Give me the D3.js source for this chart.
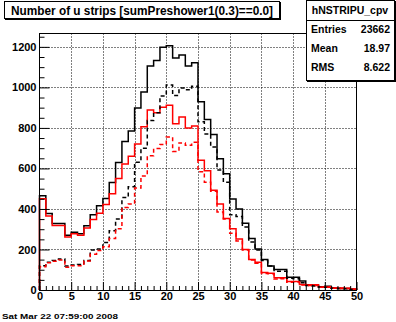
<!DOCTYPE html>
<html><head><meta charset="utf-8">
<script src="https://cdn.jsdelivr.net/npm/d3@7"></script>
<style>
html,body{margin:0;padding:0;background:#fff;}
svg{display:block;}
text{font-family:"Liberation Sans",Arial,sans-serif;font-weight:bold;}
</style></head>
<body><svg id="c" width="396" height="322"></svg>
<script>
// ---- data (bin contents, 50 bins of width 1 from 0 to 50) ----
const binEdges = [0, 50];
const blackSolid = [465,378,328,328,270,285,278,317,372,416,
  452,530,629,733,785,898,977,1105,1133,1198,
  1206,1145,1160,1105,1122,929,842,767,648,574,
  449,400,330,254,202,151,119,101,101,63,
  63,44,24,24,16,18,10,8,8,4];
const blackDashed = [120,137,145,153,119,124,126,145,197,202,
  235,293,350,456,510,631,700,836,875,958,
  1012,960,997,988,1006,830,770,706,592,532,
  371,363,311,237,197,145,118,92,92,58,
  55,36,22,20,15,14,9,7,6,3];
const redSolid = [450,365,318,318,262,278,270,306,348,379,
  422,475,550,622,660,721,806,888,875,902,
  912,821,854,800,810,641,589,492,425,353,
  302,252,200,150,137,86,83,60,60,42,
  42,27,26,26,15,16,10,10,9,5];
const redDashed = [115,135,142,148,112,120,120,143,177,195,
  213,254,302,407,425,503,563,662,698,718,
  755,684,726,714,729,584,532,488,385,350,
  280,242,197,148,132,82,80,54,56,38,
  40,25,22,22,13,14,9,8,8,4];
const xTicks = [0,5,10,15,20,25,30,35,40,45,50];
const yTicks = [0,200,400,600,800,1000,1200];
const titleText = "Number of u strips [sumPreshower1(0.3)==0.0]";
const statsName = "hNSTRIPU_cpv";
const statsRows = [["Entries","23662"],["Mean","18.97"],["RMS","8.622"]];
const dateText = "Sat Mar 22 07:59:00 2008";

const svg = d3.select("#c");
const L=39.5, R=356.5, T=33.5, B=290;
const x = d3.scaleLinear().domain(binEdges).range([L, R]);
const y = d3.scaleLinear().domain([0, 1266]).range([B, T]);

// grid
const grid = svg.append("g").attr("stroke","#000").attr("stroke-width",1).attr("stroke-dasharray","1,2");
xTicks.slice(1,-1).forEach(v=>{
  grid.append("line").attr("x1",Math.round(x(v))+0.5).attr("x2",Math.round(x(v))+0.5).attr("y1",T).attr("y2",B);
});
yTicks.slice(1).forEach(v=>{
  grid.append("line").attr("x1",L).attr("x2",R).attr("y1",Math.round(y(v))+0.5).attr("y2",Math.round(y(v))+0.5);
});

// histograms
function stepPath(vals){
  const w = (binEdges[1]-binEdges[0])/vals.length;
  let p = "M"+x(binEdges[0])+","+y(0);
  vals.forEach((v,i)=>{
    p += "L"+x(binEdges[0]+i*w)+","+y(v)+"L"+x(binEdges[0]+(i+1)*w)+","+y(v);
  });
  p += "L"+x(binEdges[1])+","+y(0);
  return p;
}
const hists = [
  {d:blackSolid,c:"#000",dash:null},
  {d:redSolid,c:"#ff0000",dash:null},
  {d:blackDashed,c:"#000",dash:"4,3"},
  {d:redDashed,c:"#ff0000",dash:"4,3"}
];
hists.forEach(h=>{
  svg.append("path").attr("d",stepPath(h.d)).attr("fill","none")
    .attr("stroke",h.c).attr("stroke-width",1.5)
    .attr("stroke-dasharray",h.dash);
});

// frame
svg.append("rect").attr("x",L).attr("y",T).attr("width",R-L).attr("height",B+0.5-T)
  .attr("fill","none").attr("stroke","#000").attr("stroke-width",1);

// axes
const yMinor = d3.range(0,1266,50).filter(v=>v%200!==0);
const xMinor = d3.range(0,51,1).filter(v=>v%5!==0);
const ax = svg.append("g").attr("transform","translate("+L+",0)")
  .call(d3.axisLeft(y).tickValues(yTicks).tickSize(-10).tickPadding(3).tickFormat(d3.format("d")));
svg.append("g").attr("transform","translate("+L+",0)")
  .call(d3.axisLeft(y).tickValues(yMinor).tickSize(-5).tickFormat(""));
const bx = svg.append("g").attr("transform","translate(0,"+B+")")
  .call(d3.axisBottom(x).tickValues(xTicks).tickSize(-8).tickPadding(2).tickFormat(d3.format("d")));
svg.append("g").attr("transform","translate(0,"+B+")")
  .call(d3.axisBottom(x).tickValues(xMinor).tickSize(-4).tickFormat(""));
svg.selectAll(".domain").remove();
svg.selectAll(".tick line").attr("stroke","#000");
svg.selectAll(".tick text").attr("font-size",11).attr("font-family","Liberation Sans").attr("font-weight","bold").attr("fill","#000");

// title box
svg.append("rect").attr("x",5).attr("y",2).attr("width",276).attr("height",18).attr("fill","#000");
svg.append("rect").attr("x",4.5).attr("y",1.5).attr("width",275).attr("height",17).attr("fill","#fff").attr("stroke","#000");
svg.append("text").attr("x",142).attr("y",14.5).attr("text-anchor","middle").attr("font-size",12.5)
  .attr("textLength",262).attr("lengthAdjust","spacingAndGlyphs").text(titleText);

// stats box
svg.append("rect").attr("x",307).attr("y",1).attr("width",89).attr("height",81).attr("fill","#000");
svg.append("rect").attr("x",306.5).attr("y",0.5).attr("width",88).attr("height",80).attr("fill","#fff").attr("stroke","#000");
svg.append("line").attr("x1",306.5).attr("x2",394.5).attr("y1",20.5).attr("y2",20.5).attr("stroke","#000");
svg.append("text").attr("x",350).attr("y",14).attr("text-anchor","middle").attr("font-size",10.5).text(statsName);
statsRows.forEach((r,i)=>{
  const yy = 33 + i*19;
  svg.append("text").attr("x",311).attr("y",yy).attr("font-size",10.5).text(r[0]);
  svg.append("text").attr("x",390).attr("y",yy).attr("text-anchor","end").attr("font-size",10.5).text(r[1]);
});

// date
svg.append("text").attr("x",2).attr("y",319).attr("font-size",8).attr("textLength",116)
  .attr("lengthAdjust","spacingAndGlyphs").text(dateText);
</script></body></html>
